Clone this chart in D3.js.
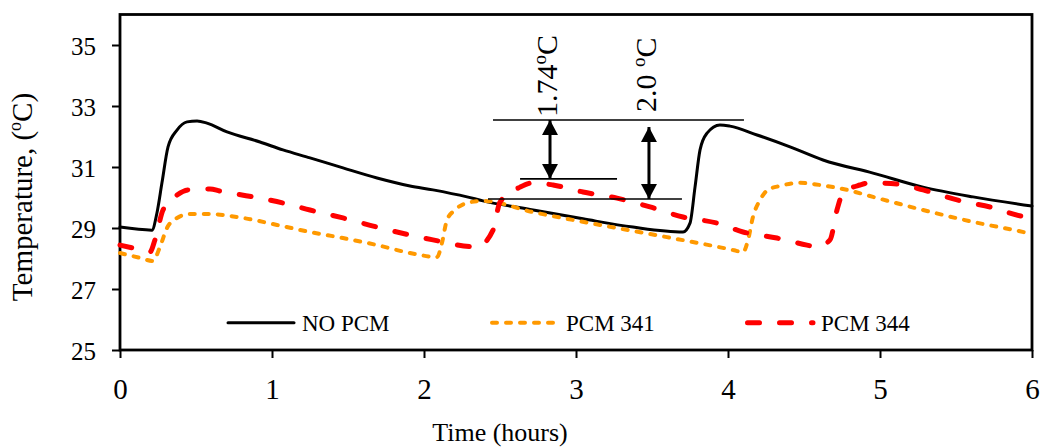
<!DOCTYPE html>
<html>
<head>
<meta charset="utf-8">
<script src="https://cdn.jsdelivr.net/npm/d3@7"></script>
<style>
  html, body { margin: 0; padding: 0; background: #fff; }
  svg { display: block; font-family: "Liberation Serif", "Times New Roman", serif; }
</style>
</head>
<body>
<svg id="chart" width="1044" height="448"></svg>
<script>
// Indoor temperature over six hours, with and without phase change material
const noPcmTime = [0, 0.21, 0.243, 0.276, 0.316, 0.375, 0.441, 0.507, 0.572, 0.704, 0.921, 1.072, 1.25, 1.467, 1.691, 1.908, 2.059, 2.283, 2.388, 2.717, 3.046, 3.375, 3.704, 3.75, 3.783, 3.816, 3.862, 3.947, 4.013, 4.191, 4.408, 4.625, 4.954, 5.283, 5.612, 6.0];
const noPcmTemp = [29.03, 28.93, 29.49, 30.48, 31.66, 32.21, 32.48, 32.51, 32.44, 32.15, 31.82, 31.56, 31.30, 30.97, 30.64, 30.38, 30.25, 30.02, 29.89, 29.59, 29.30, 29.03, 28.87, 29.16, 30.34, 31.56, 32.11, 32.38, 32.34, 32.05, 31.66, 31.23, 30.80, 30.34, 30.02, 29.72];

const pcm341Time = [0, 0.132, 0.217, 0.263, 0.309, 0.375, 0.461, 0.572, 0.809, 1.033, 1.25, 1.467, 1.691, 1.908, 2.086, 2.118, 2.151, 2.204, 2.283, 2.388, 2.717, 3.158, 3.599, 4.033, 4.099, 4.132, 4.164, 4.211, 4.263, 4.342, 4.474, 4.605, 4.783, 4.954, 5.283, 5.612, 5.967, 6.0];
const pcm341Temp = [28.18, 28.02, 27.92, 28.38, 29.0, 29.33, 29.46, 29.46, 29.33, 29.10, 28.87, 28.67, 28.44, 28.18, 28.05, 28.51, 29.26, 29.59, 29.82, 29.89, 29.52, 29.10, 28.70, 28.28, 28.21, 28.61, 29.36, 29.92, 30.25, 30.38, 30.48, 30.41, 30.25, 30.02, 29.59, 29.20, 28.84, 28.80];

const pcm344Time = [0, 0.086, 0.197, 0.230, 0.283, 0.375, 0.447, 0.592, 0.658, 0.875, 1.072, 1.25, 1.467, 1.691, 1.908, 2.059, 2.349, 2.454, 2.5, 2.632, 2.717, 2.849, 3.046, 3.270, 3.487, 3.704, 3.928, 4.099, 4.322, 4.52, 4.586, 4.671, 4.717, 4.757, 4.868, 4.934, 5.112, 5.283, 5.507, 5.724, 5.987, 6.0];
const pcm344Temp = [28.44, 28.34, 28.21, 28.61, 29.59, 30.08, 30.25, 30.28, 30.21, 30.02, 29.82, 29.59, 29.33, 29.03, 28.77, 28.61, 28.38, 28.93, 29.85, 30.34, 30.48, 30.41, 30.18, 29.98, 29.69, 29.36, 29.16, 28.87, 28.67, 28.44, 28.38, 28.61, 29.59, 30.15, 30.41, 30.48, 30.44, 30.25, 29.92, 29.69, 29.36, 29.36];

const xTicks = [0, 1, 2, 3, 4, 5, 6];
const yTicks = [25, 27, 29, 31, 33, 35];
const seriesNames = ["NO PCM", "PCM 341", "PCM 344"];

// Reference levels for the temperature-drop annotations (°C) and their spans (hours)
const peakLevel = 32.54, pcmPeakLevel = 30.61, noPcmLevel = 29.95;
const peakSpan = [2.454, 4.105], pcmPeakSpan = [2.632, 3.270], noPcmSpan = [2.421, 3.697];
const dropLabels = ["1.74", "2.0 "];
const dropAt = [2.829, 3.48];
const dropFrom = [32.54, 32.31];
const dropTo = [30.61, 29.95];

const svg = d3.select("#chart");
const x = d3.scaleLinear().domain([0, 6]).range([120, 1032]);
const y = d3.scaleLinear().domain([25, 36]).range([350, 14.5]);

const styles = [
  { color: "#000000", width: 3, dash: null, cap: "round" },
  { color: "#FF9900", width: 4, dash: "5,9", cap: "round" },
  { color: "#FF0000", width: 5, dash: "12,20", cap: "round" }
];

// Axes
const xAxis = svg.append("g")
  .attr("transform", "translate(0,350)")
  .call(d3.axisBottom(x).tickValues(xTicks).tickSize(8).tickSizeOuter(0).tickFormat(d3.format("d")));
xAxis.select(".domain").remove();
xAxis.selectAll("line").attr("stroke", "#000").attr("stroke-width", 2);
xAxis.selectAll("text").attr("dy", null).attr("y", 49)
  .attr("font-size", 29).attr("fill", "#000")
  .attr("font-family", "Liberation Serif, Times New Roman, serif");

const yAxis = svg.append("g")
  .attr("transform", "translate(120,0)")
  .call(d3.axisLeft(y).tickValues(yTicks).tickSize(8).tickSizeOuter(0).tickFormat(d3.format("d")));
yAxis.select(".domain").remove();
yAxis.selectAll("line").attr("stroke", "#000").attr("stroke-width", 2);
yAxis.selectAll("text").attr("dy", null).attr("x", -24).attr("y", 9)
  .attr("font-size", 25).attr("fill", "#000")
  .attr("font-family", "Liberation Serif, Times New Roman, serif");

// Plot frame
svg.append("rect")
  .attr("x", x(0)).attr("y", y(36))
  .attr("width", x(6) - x(0)).attr("height", y(25) - y(36))
  .attr("fill", "none").attr("stroke", "#000").attr("stroke-width", 2.8);

// Series lines
const line = d3.line().x(d => x(d[0])).y(d => y(d[1])).curve(d3.curveMonotoneX);
const series = [
  d3.zip(noPcmTime, noPcmTemp),
  d3.zip(pcm341Time, pcm341Temp),
  d3.zip(pcm344Time, pcm344Temp)
];
series.forEach((pts, i) => {
  const s = styles[i];
  svg.append("path")
    .datum(pts)
    .attr("d", line)
    .attr("fill", "none")
    .attr("stroke", s.color)
    .attr("stroke-width", s.width)
    .attr("stroke-linecap", s.cap)
    .attr("stroke-linejoin", "round")
    .attr("stroke-dasharray", s.dash);
});

// Annotation: reference levels and drop arrows
svg.append("defs").append("marker")
  .attr("id", "head")
  .attr("markerUnits", "userSpaceOnUse")
  .attr("viewBox", "0 0 15 16")
  .attr("markerWidth", 15).attr("markerHeight", 16)
  .attr("refX", 15).attr("refY", 8)
  .attr("orient", "auto-start-reverse")
  .append("path").attr("d", "M0,0 L15,8 L0,16 Z").attr("fill", "#000");

[[peakSpan, peakLevel], [pcmPeakSpan, pcmPeakLevel], [noPcmSpan, noPcmLevel]].forEach(([span, lvl]) => {
  svg.append("line")
    .attr("x1", x(span[0])).attr("x2", x(span[1]))
    .attr("y1", y(lvl)).attr("y2", y(lvl))
    .attr("stroke", "#000").attr("stroke-width", 1.6);
});

dropAt.forEach((t, i) => {
  svg.append("line")
    .attr("x1", x(t)).attr("x2", x(t))
    .attr("y1", y(dropFrom[i])).attr("y2", y(dropTo[i]))
    .attr("stroke", "#000").attr("stroke-width", 3)
    .attr("marker-start", "url(#head)").attr("marker-end", "url(#head)");
});

const dropText = [[557, 117], [656, 112]];
dropLabels.forEach((lab, i) => {
  const t = svg.append("text")
    .attr("transform", `translate(${dropText[i][0]},${dropText[i][1]}) rotate(-90)`)
    .attr("font-size", 30).attr("fill", "#000");
  t.append("tspan").text(lab);
  t.append("tspan").attr("font-size", 19).attr("dy", -11).text("o");
  t.append("tspan").attr("dy", 11).text("C");
});

// Legend
const legendX = [226, 490, 745];
const legendY = 322.7;
seriesNames.forEach((name, i) => {
  const s = styles[i];
  svg.append("line")
    .attr("x1", legendX[i] + (i === 2 ? 2.5 : 2)).attr("x2", legendX[i] + 68)
    .attr("y1", legendY).attr("y2", legendY)
    .attr("stroke", s.color).attr("stroke-width", s.width)
    .attr("stroke-linecap", s.cap)
    .attr("stroke-dasharray", s.dash);
  svg.append("text")
    .attr("x", legendX[i] + 76).attr("y", 331)
    .attr("font-size", 23).attr("fill", "#000")
    .text(name);
});

// Axis titles
svg.append("text")
  .attr("x", 500).attr("y", 441)
  .attr("text-anchor", "middle")
  .attr("font-size", 26).attr("fill", "#000")
  .text("Time (hours)");

const yTitle = svg.append("text")
  .attr("transform", "translate(32,197) rotate(-90)")
  .attr("text-anchor", "middle")
  .attr("font-size", 29).attr("fill", "#000");
yTitle.append("tspan").text("Temperature, (");
yTitle.append("tspan").attr("font-size", 18).attr("dy", -11).text("o");
yTitle.append("tspan").attr("dy", 11).text("C)");
</script>
</body>
</html>
